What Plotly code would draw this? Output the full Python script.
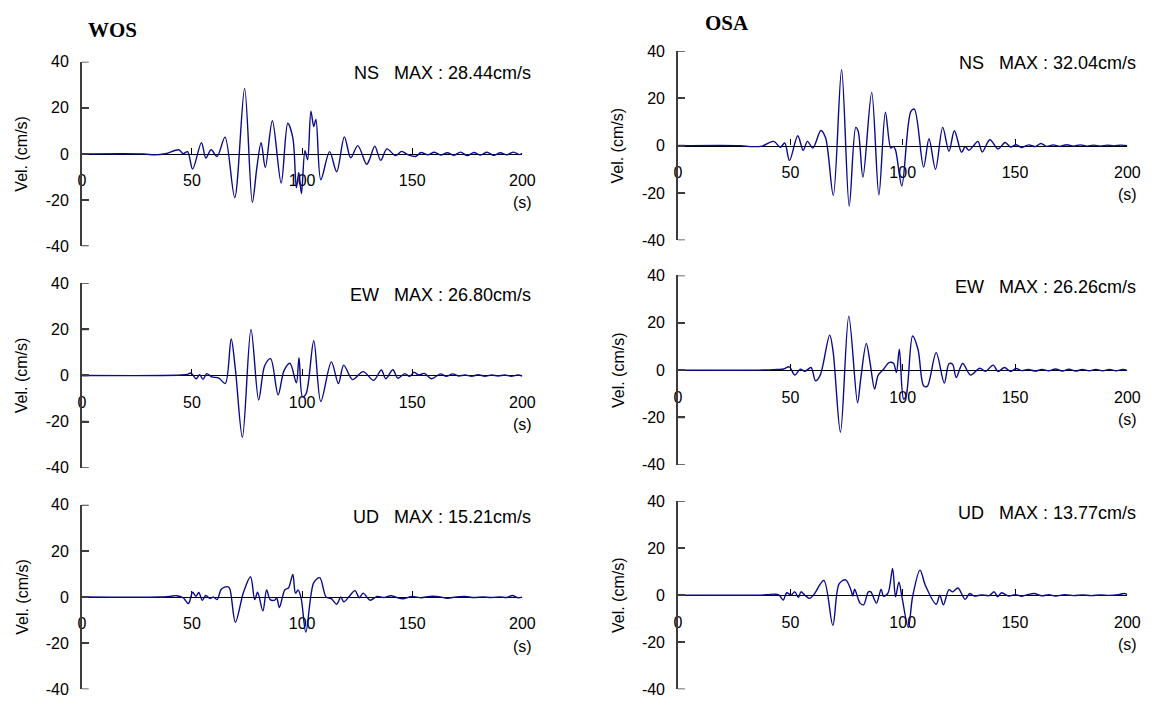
import plotly.graph_objects as go

# Velocity waveforms (time in s, velocity in cm/s), traced peak-to-peak
wos_ns = [(0, 0), (28, 0), (33, -0.4), (38, 0.1), (44, 1.8), (46, 0.1), (48, 1.0), (50.3, -6.6),
          (54.3, 4.9), (56.3, -1.8), (58.7, 1.8), (61.4, -1.1), (65, 7.3), (69.4, -18.9),
          (73.9, 28.44), (77.4, -21.0), (79.5, -5.6), (81.4, 4.9), (83.3, -5.9), (86.5, 14.4),
          (90.5, -12.6), (93.5, 13.3), (95.8, 7.0), (97.4, -14.7), (98.5, -8.0), (99.7, -17.2),
          (101.3, 1.4), (102.5, -2.5), (104, 18.5), (105.3, 11.9), (106.3, 15.0), (108.5, -11.2),
          (112.5, 1.0), (115.7, -7.7), (119.2, 7.4), (122.1, -1.7), (125.3, 3.6), (129.3, -4.5),
          (130.8, -2.0), (133, 3.4), (135.7, -2.8), (138.5, 2.2), (142.4, -0.7), (145.2, 1.1),
          (148, -0.3), (151.6, -1.1), (154, 0.6), (157, -0.4), (160, 0.7), (163, -0.5), (166, 0.5),
          (169, -0.6), (172, 0.8), (175, -0.7), (178, 0.6), (181, -0.5), (184, 0.7), (187, -0.6),
          (190, 0.5), (193, -0.4), (196, 0.8), (198.5, -0.3), (200, 0.3)]

osa_ns = [(0, 0), (27.8, 0), (32, -0.4), (37.4, -0.2), (42.6, 1.8), (45.5, -0.7), (47.5, 1.1),
          (49.6, -6.3), (53.3, 4.2), (55.7, -2.0), (57.6, 1.8), (60, -1.0), (63.6, 6.4), (65.7, 3.2),
          (69.1, -21.0), (72.8, 32.04), (76.2, -25.5), (79.1, 7.7), (80.2, 6.0), (82.3, -13.3),
          (86.2, 22.5), (89.4, -20.8), (92.3, 14.1), (94.7, -1.0), (95.8, -0.3), (96.8, -1.8),
          (99.6, -17.0), (103.6, 14.4), (105.2, 15.4), (109.3, -9.1), (111.7, 2.9), (114.6, -10.0),
          (117.8, 7.7), (120.6, -2.4), (123.0, 6.3), (126.2, -2.8), (127.8, -0.5), (129.5, -2.0),
          (131.3, -0.3), (133.5, 1.8), (135.4, -2.7), (138.8, 2.5), (142.4, -1.4), (145.6, 1.3),
          (148, -0.6), (150.5, 0.4), (153, -0.8), (156, 0.3), (159, -0.4), (161.5, 0.9), (164, -0.3),
          (167, 0.3), (170, -0.3), (173, 0.4), (176, -0.2), (179, 0.3), (182, -0.2), (185, 0.2),
          (188, -0.2), (191, 0.2), (194, -0.1), (197, 0.2), (200, 0.0)]

wos_ew = [(0, 0), (36.7, 0), (45, 0.2), (48, 0.5), (49.5, 1.1), (51.9, -1.4), (53.5, 0.4), (55, -1.7),
          (56.7, 0.8), (59, -0.6), (62.2, -1.1), (65.1, -3.5), (67.8, 15.8), (69.7, 2.8),
          (72.9, -26.80), (76.8, 20.0), (80.3, -10.6), (83, 4.2), (85.7, 7.3), (89.1, -8.4),
          (91.8, 2.1), (94.5, 5.3), (97.4, -3.2), (98.6, 7.7), (100.2, -9.2), (101.8, -8.0),
          (105.3, 15.1), (108.5, -11.3), (113.3, 5.9), (116.5, -3.5), (118.9, 4.5), (122.9, -1.8),
          (127.7, 1.7), (132.5, -2.1), (136, 2.4), (138, -1.4), (141.2, 2.5), (143.5, -1.2),
          (146.6, 0.8), (148.8, -0.4), (150.8, 1.4), (153, 0.2), (155.5, 0.9), (158.8, -1.4),
          (162.8, 0.7), (165.5, -0.4), (168.4, 0.7), (171, -0.2), (174, 0.2), (177, -0.3), (180, 0.3),
          (183, -0.3), (186, 0.2), (189, -0.2), (192, 0.2), (195, -0.3), (198, 0.2), (200, -0.2)]

osa_ew = [(0, 0), (35.8, 0), (44, 0.3), (47, 0.5), (49.5, 1.4), (52, -2.1), (54.4, 0.4), (56.5, -0.5),
          (59.2, 1.1), (61.2, -4.5), (63.3, -2.1), (67.5, 14.8), (69, 8.0), (72.3, -26.26),
          (76, 22.8), (79.9, -13.8), (81.3, -3.8), (83.8, 11.3), (85.5, 3.0), (87.5, -8.0),
          (89.1, -2.1), (91.5, 0.4), (93.9, 3.2), (95.9, 2.9), (97.2, -1.0), (98.5, 8.8),
          (100.4, -12.2), (101.5, -11.0), (104.4, 14.4), (106.8, 8.8), (109.3, -6.6), (110.9, -6.9),
          (114.9, 7.4), (118.5, -5.5), (120.6, 2.7), (122.2, 2.5), (123.8, -3.1), (126.7, 2.8),
          (130.2, -2.1), (134.3, 0.8), (136.8, -0.5), (140.3, 2.1), (142.4, -0.6), (145.3, 1.1),
          (148, -0.6), (150.4, 0.7), (153, -0.2), (156, 0.3), (159, -0.4), (162, 0.3), (165, -0.3),
          (168, 0.5), (171, -0.4), (174, 0.4), (177, -0.4), (180, 0.3), (183, -0.3), (186, 0.3),
          (189, -0.3), (192, 0.3), (195, -0.3), (198, 0.3), (200, -0.2)]

wos_ud = [(0, 0), (35, 0), (40, 0.3), (43, 0.6), (46, -0.3), (48.4, -2.8), (50.3, 2.1), (51.8, 0.3),
          (53.1, 2.0), (54.7, -1.4), (56.3, 0.7), (58.2, -0.6), (59.8, 0), (61.4, -1.1), (63.4, 3.5),
          (66.2, 4.5), (67.2, 3.5), (69.7, -10.9), (73.4, 2.1), (76.6, 8.8), (78.5, -1.1), (79.8, 2.1),
          (82.2, -6.0), (83.9, 3.1), (85.5, -1.1), (87.6, -1.3), (88.5, -0.4), (89.7, -4.5),
          (92.2, 3.2), (93.8, 3.9), (95.8, 9.8), (97, 1.7), (98.2, 3.1), (99.6, -0.7),
          (101.7, -15.21), (105.3, 6.3), (108, 8.4), (110.9, 0), (113.2, -0.7), (115.7, -3.1),
          (117.6, 0), (118.9, -2.1), (121.5, 0.4), (124, 2.8), (126, -0.3), (127.7, 1.7),
          (130.9, -1.4), (134, 0.3), (137, -0.2), (140.4, 0.6), (143, -0.2), (146, -0.7), (150, 0.3),
          (154, -0.3), (158, 0.3), (162, 0.2), (166, -0.5), (170, 0.1), (174, 0.3), (178, -0.2),
          (182, 0.1), (186, -0.2), (190, 0.1), (193, -0.2), (195.5, 0.7), (198, -0.3), (200, 0)]

osa_ud = [(0, 0), (35.8, 0), (40, 0.2), (43, 0.4), (45, 0), (46.8, -2.1), (48.4, 1.0), (50.3, 0),
          (52, 1.4), (53.6, -1.0), (54.7, 1.4), (56.6, -0.2), (58.7, -1.4), (60.5, 0.3), (64.9, 6.2),
          (68.9, -12.8), (71.7, 4.8), (74.6, 6.5), (77, 2.1), (77.8, -0.4), (78.6, 2.5), (81, -3.4),
          (82.6, -4.1), (84.7, 1.4), (85.8, 1.4), (88.3, -3.4), (90.4, 2.5), (91.5, -0.5), (93.5, 1.0),
          (95.5, 11.3), (96.8, -0.7), (98.3, 5.5), (99.7, -1.0), (102.5, -13.77), (104.4, -0.7),
          (107.7, 10.6), (110.1, 4.1), (114.9, -3.9), (116.5, 0), (118.1, -4.1), (120.6, 2.3),
          (122.2, 1.4), (124.6, 3.0), (127.8, -1.8), (129.8, 0.7), (131.9, -0.4), (135, 0.1),
          (138.5, -0.2), (140.7, 1.4), (142.3, -0.7), (144, 1.0), (147.2, -0.4), (150, 0.2),
          (153, -0.5), (156, 0.3), (158.5, 0.7), (162, -0.3), (165, 0.2), (168, -0.4), (172, 0.2),
          (176, -0.2), (180, 0.1), (184, -0.2), (188, 0.1), (192, -0.1), (196, 0.2), (198.8, 0.7),
          (200, 0.2)]

stations = ["WOS", "OSA"]
components = ["NS", "EW", "UD"]
max_labels = {"WOS": ["28.44", "26.80", "15.21"], "OSA": ["32.04", "26.26", "13.77"]}
series = {"WOS": [wos_ns, wos_ew, wos_ud], "OSA": [osa_ns, osa_ew, osa_ud]}

x_ticks = [0, 50, 100, 150, 200]
y_ticks = [-40, -20, 0, 20, 40]
y_ticktext = ["-40", "-20", "0", "20", "40"]

# Page layout in pixels
W, H = 1166, 711
col_x = {"WOS": (79, 526), "OSA": (684, 1140)}
row_y = {"WOS": [(55, 244), (282, 471), (509, 698)],
         "OSA": [(44, 238), (274, 468), (505, 698)]}
title_pos = {"WOS": (110, 23), "OSA": (734, 15)}
Y_TICK_PX = 7

LINE_COLOR = "#0a0a8c"
AXIS_GREY = "#3c3c3c"
FONT = "Liberation Sans, Arial, sans-serif"

fig = go.Figure()
annotations = []
shapes = []
layout = {}

idx = 0
for st in stations:
    x0, x1 = col_x[st]
    for r, comp in enumerate(components):
        idx += 1
        sfx = "" if idx == 1 else str(idx)
        ytop, ybot = row_y[st][r]
        pts = series[st][r]
        t = [p[0] for p in pts]
        v = [p[1] for p in pts]
        fig.add_trace(go.Scatter(
            x=t, y=v, mode="lines", xaxis="x" + sfx, yaxis="y" + sfx,
            line=dict(color=LINE_COLOR, width=1.4, shape="spline", smoothing=0.9),
            showlegend=False, hoverinfo="skip"))

        zero_frac = 1 - ((ytop + ybot) / 2) / H
        layout["xaxis" + sfx] = dict(
            domain=[x0 / W, x1 / W], range=[0, 200], anchor="free", position=zero_frac,
            tickvals=x_ticks, ticks="inside", ticklen=6, tickwidth=1.3, tickcolor="black",
            showline=True, linecolor="black", linewidth=1.4, showgrid=False, zeroline=False,
            tickfont=dict(family=FONT, size=16, color="black"), ticklabelstandoff=12,
            layer="below traces", fixedrange=True)
        layout["yaxis" + sfx] = dict(
            domain=[1 - ybot / H, 1 - ytop / H], range=[-40, 40], anchor="x" + sfx,
            tickvals=y_ticks, ticktext=y_ticktext, ticks="inside", ticklen=Y_TICK_PX,
            tickwidth=1.6, tickcolor=AXIS_GREY, showline=True, linecolor=AXIS_GREY,
            linewidth=1.6, showgrid=False, zeroline=False, ticklabelstandoff=8,
            tickfont=dict(family=FONT, size=16, color="black"), fixedrange=True)

        # short tick marks on the right side of the value axis
        for yv in y_ticks:
            shapes.append(dict(
                type="line", xref=f"x{sfx} domain", yref="y" + sfx,
                x0=0, x1=Y_TICK_PX / (x1 - x0), y0=yv, y1=yv,
                line=dict(color=AXIS_GREY, width=1.6)))

        # component / peak label
        annotations.append(dict(
            text=f"{comp}\u00a0\u00a0 MAX : {max_labels[st][r]}cm/s",
            xref="paper", yref="paper", x=(x1 + 11) / W, y=1 - (ytop + 12) / H,
            xanchor="right", yanchor="middle", showarrow=False,
            font=dict(family=FONT, size=18, color="black")))
        # y-axis title
        annotations.append(dict(
            text="Vel. (cm/s)", textangle=-90,
            xref="paper", yref="paper", x=(x0 - 61) / W, y=1 - ((ytop + ybot) / 2) / H,
            xanchor="center", yanchor="middle", showarrow=False,
            font=dict(family=FONT, size=16, color="black")))
        # time unit under the last tick
        annotations.append(dict(
            text="(s)", xref="x" + sfx, yref="y" + sfx, x=200, y=0, yshift=-49,
            xanchor="center", yanchor="middle", showarrow=False,
            font=dict(family=FONT, size=16, color="black")))

    tx, ty = title_pos[st]
    annotations.append(dict(
        text=f"<b>{st}</b>", xref="paper", yref="paper", x=tx / W, y=1 - ty / H,
        xanchor="center", yanchor="middle", showarrow=False,
        font=dict(family="Liberation Serif, Times New Roman, serif", size=21, color="black")))

fig.update_layout(
    width=W, height=H, margin=dict(l=0, r=0, t=0, b=0),
    paper_bgcolor="white", plot_bgcolor="white",
    annotations=annotations, shapes=shapes, **layout)

# drop the default page margin so the figure sits flush in the window
fig.write_html("out.html", include_plotlyjs=True, config={"displayModeBar": False},
               post_script="document.body.style.margin='0';"
                           "document.body.style.overflow='hidden';")
